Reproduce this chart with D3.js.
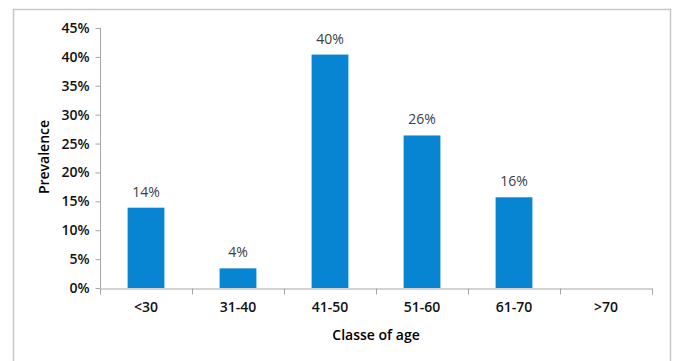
<!DOCTYPE html>
<html>
<head>
<meta charset="utf-8">
<script src="https://cdn.jsdelivr.net/npm/d3@7"></script>
<style>
  body { margin: 0; background: #fff; }
  svg { display: block; font-family: "Open Sans", Calibri, sans-serif; }
</style>
</head>
<body>
<svg id="chart" width="676" height="361"></svg>
<script>
// ------------------- Data -------------------
const ageClasses = ["<30", "31-40", "41-50", "51-60", "61-70", ">70"];
const prevalence = [0.139, 0.034, 0.404, 0.264, 0.157, 0];
const valueLabels = ["14%", "4%", "40%", "26%", "16%", ""];
const yTicks = [0, 0.05, 0.10, 0.15, 0.20, 0.25, 0.30, 0.35, 0.40, 0.45];

// ------------------- Setup -------------------
const svg = d3.select("#chart");
const margin = { left: 100, right: 24, top: 28, bottom: 73 };
const width = 676, height = 361;

// outer frame
svg.append("rect")
  .attr("x", 13.5).attr("y", 9.5)
  .attr("width", 657).attr("height", 360)
  .attr("fill", "none")
  .attr("stroke", "#c8c8c8")
  .attr("stroke-width", 1.5);

const x = d3.scaleBand()
  .domain(ageClasses)
  .range([margin.left, width - margin.right])
  .paddingInner(0.6)
  .paddingOuter(0.3);

const y = d3.scaleLinear()
  .domain([0, 0.45])
  .range([height - margin.bottom, margin.top]);

// ------------------- Axes -------------------
const yAxis = svg.append("g")
  .attr("transform", `translate(${margin.left + 0.5},0)`)
  .call(d3.axisLeft(y).tickValues(yTicks).tickFormat(d3.format(".0%")).tickSizeOuter(0).tickSize(5).tickPadding(6));

const xAxis = svg.append("g")
  .attr("transform", `translate(0,${y(0) + 0.5})`)
  .call(d3.axisBottom(x).tickSize(0).tickPadding(14));

// category boundary ticks like Excel
const bounds = d3.range(ageClasses.length + 1).map(i => margin.left + i * x.step());
xAxis.selectAll("line.bound")
  .data(bounds)
  .enter().append("line")
    .attr("class", "bound")
    .attr("x1", d => Math.round(d) + 0.5).attr("x2", d => Math.round(d) + 0.5)
    .attr("y1", 0).attr("y2", 6)
    .attr("stroke", "#a6a6a6");

[yAxis, xAxis].forEach(ax => {
  ax.selectAll(".domain, .tick line").attr("stroke", "#a6a6a6");
  ax.selectAll("text")
    .attr("fill", "#111")
    .attr("font-size", "14px")
    .attr("font-weight", 600)
    .attr("font-family", "'Open Sans', sans-serif");
});
yAxis.select(".domain").attr("d", `M0,${y(0.45)}V${y(0)}`);

// ------------------- Bars -------------------
const data = ageClasses.map((c, i) => ({ c, v: prevalence[i], label: valueLabels[i] }));

svg.selectAll("rect.bar")
  .data(data)
  .enter().append("rect")
    .attr("class", "bar")
    .attr("x", d => x(d.c))
    .attr("y", d => y(d.v))
    .attr("width", x.bandwidth())
    .attr("height", d => y(0) - y(d.v))
    .attr("fill", "#0785d2");

svg.selectAll("text.val")
  .data(data.filter(d => d.label))
  .enter().append("text")
    .attr("class", "val")
    .attr("x", d => x(d.c) + x.bandwidth() / 2)
    .attr("y", d => y(d.v) - 11)
    .attr("text-anchor", "middle")
    .attr("fill", "#404040")
    .attr("font-size", "14px")
    .text(d => d.label);

// ------------------- Titles -------------------
svg.append("text")
  .attr("x", margin.left + (width - margin.left - margin.right) / 2)
  .attr("y", 340)
  .attr("text-anchor", "middle")
  .attr("font-size", "14px")
  .attr("font-weight", 600)
  .text("Classe of age");

svg.append("text")
  .attr("transform", `translate(49,157) rotate(-90)`)
  .attr("text-anchor", "middle")
  .attr("font-size", "14px")
  .attr("font-weight", 600)
  .text("Prevalence");
</script>
</body>
</html>
